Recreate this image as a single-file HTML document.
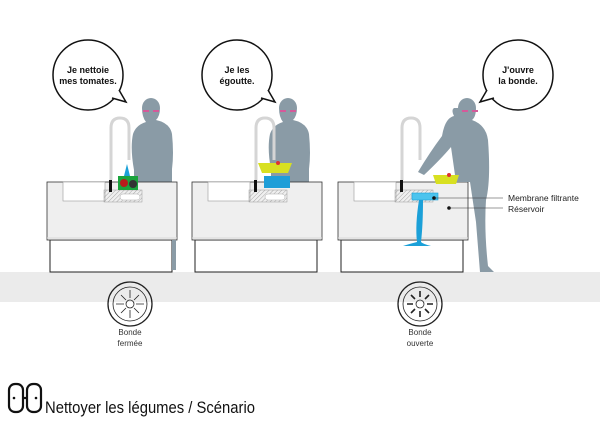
<!DOCTYPE html>
<html><head><meta charset="utf-8"><style>
html,body{margin:0;padding:0;background:#fff;}
svg{display:block;}
text{font-family:"Liberation Sans","DejaVu Sans",sans-serif;}
</style></head><body>
<svg width="600" height="424" viewBox="0 0 600 424" xmlns="http://www.w3.org/2000/svg">
<defs>
<pattern id="h" width="3" height="3" patternUnits="userSpaceOnUse" patternTransform="rotate(45)"><line x1="0" y1="0" x2="0" y2="3" stroke="#888" stroke-width="0.7"/></pattern>
<g id="cab">
  <rect x="50" y="240" width="122" height="32" fill="#fff" stroke="#222" stroke-width="1"/>
  <rect x="47" y="182" width="130" height="58" fill="#efefef" stroke="#333" stroke-width="0.8"/>
  <line x1="47" y1="238" x2="177" y2="238" stroke="#d8d8d8"/>
  <rect x="63" y="182" width="42" height="19" fill="#fff" stroke="#999" stroke-width="0.6"/>
  <rect x="104" y="190" width="38" height="12" fill="url(#h)" stroke="#999" stroke-width="0.5"/>
  <rect x="120" y="194" width="20" height="6" rx="3" fill="#fff" stroke="#aaa" stroke-width="0.5"/>
  <rect x="109" y="180" width="3" height="12" fill="#111"/>
  <path d="M111 180 V128 Q111 118 120 118 Q129 118 129 128 V160" fill="none" stroke="#d5d5d5" stroke-width="3"/>
</g>
<path id="pers" d="M142 108 a9 10 0 1 1 18 0 q0 8 -4 12 q14 3 16 14 q2 20 0 35 l0 13 l-38 0 l0 -12 q-4 -22 -1 -36 q3 -9 13 -12 q-4 -5 -4 -14z" fill="#8a9ba6"/>
</defs>

<rect x="0" y="272" width="600" height="30" fill="#ebebeb"/>

<!-- scene 1 -->
<use href="#pers"/>
<use href="#cab"/>
<path d="M172 240 h4 v30 h-4z" fill="#8a9ba6"/>
<rect x="118" y="176" width="20" height="14" fill="#1aa33c"/>
<circle cx="124" cy="183" r="4" fill="#b71c1c"/><circle cx="133" cy="184" r="4" fill="#333"/>
<path d="M124 176 l3 -12 l3 12z" fill="#1ba0d8"/>
<path d="M143 111 h6 m4 0 h6" stroke="#d45a9a" stroke-width="2"/>

<!-- scene 2 -->
<use href="#pers" transform="translate(137,0)"/>
<use href="#cab" transform="translate(145,0)"/>
<rect x="264" y="176" width="26" height="12" fill="#1e9ed8"/>
<path d="M258 163 h34 l-4 10 h-26z" fill="#d8e021"/>
<circle cx="278" cy="163" r="2" fill="#d33"/>
<path d="M280 111 h6 m4 0 h6" stroke="#d45a9a" stroke-width="2"/>

<!-- scene 3 -->
<use href="#cab" transform="translate(291,0)"/>
<path d="M458 108 a9 10 0 1 1 18 0 q0 9 -4 12 q14 5 16 20 q3 40 -2 60 q-2 30 2 66 l6 6 h-14 l-4 -50 l-6 -40 l-14 0 l-5 -35 q-10 12 -27 28 l-6 -3 q12 -20 24 -36 q3 -18 12 -20 q-3 -6 0 -8z" fill="#8a9ba6"/>
<path d="M433 175 h26 l-3 9 h-20z" fill="#d8e021"/><circle cx="449" cy="175" r="2" fill="#d33"/>
<rect x="412" y="193" width="26" height="7" fill="#4cc4ee" stroke="#1ba0d8" stroke-width="0.6"/>
<path d="M419 200 q-4 25 -2 42 q-8 2 -14 4 h28 q-8 -2 -10 -4 q2 -17 2 -42z" fill="#1ba0d8"/>
<path d="M462 111 h6 m4 0 h6" stroke="#d45a9a" stroke-width="2"/>
<circle cx="434" cy="198" r="1.8" fill="#111"/><line x1="434" y1="198" x2="503" y2="198" stroke="#333" stroke-width="0.6"/>
<circle cx="449" cy="208" r="1.8" fill="#111"/><line x1="449" y1="208" x2="503" y2="208" stroke="#333" stroke-width="0.6"/>
<text x="508" y="201" font-size="8.5" fill="#222">Membrane filtrante</text>
<text x="508" y="212" font-size="8.5" fill="#222">Réservoir</text>

<!-- bubbles -->
<g fill="#fff" stroke="#111" stroke-width="1.5">
<circle cx="88" cy="75" r="35"/>
<circle cx="237" cy="75" r="35"/>
<circle cx="518" cy="75" r="35"/>
<path d="M112 98 L126 102 L119 90" stroke-linejoin="miter"/>
<path d="M261 98 L275 102 L268 90"/>
<path d="M494 98 L480 102 L487 90"/>
</g>
<g fill="#fff"><path d="M110 96 L118 91 L121 99z"/><path d="M259 96 L267 91 L270 99z"/><path d="M496 96 L488 91 L485 99z"/></g>
<g font-size="9" font-weight="bold" text-anchor="middle" fill="#111">
<text x="88" y="73">Je nettoie</text><text x="88" y="84">mes tomates.</text>
<text x="237" y="73">Je les</text><text x="237" y="84">égoutte.</text>
<text x="518" y="73">J'ouvre</text><text x="518" y="84">la bonde.</text>
</g>

<!-- bonde icons -->
<g fill="none" stroke="#222">
<circle cx="130" cy="304" r="22" stroke-width="1.3"/><circle cx="130" cy="304" r="17" stroke-width="0.8"/>
<circle cx="130" cy="304" r="4" stroke-width="0.8"/>
<g stroke-width="0.8"><path d="M130 298 v-8 M130 310 v8 M124 304 h-8 M136 304 h8 M126 300 l-5 -5 M134 300 l5 -5 M126 308 l-5 5 M134 308 l5 5"/></g>
<circle cx="420" cy="304" r="22" stroke-width="1.3"/><circle cx="420" cy="304" r="17" stroke-width="0.8"/>
<circle cx="420" cy="304" r="4" stroke-width="0.8"/>
<g stroke-width="1.6"><path d="M420 297 v-6 M420 311 v6 M413 304 h-6 M427 304 h6 M415 299 l-4 -4 M425 299 l4 -4 M415 309 l-4 4 M425 309 l4 4"/></g>
</g>
<g font-size="8" text-anchor="middle" fill="#333">
<text x="130" y="335">Bonde</text><text x="130" y="346">fermée</text>
<text x="420" y="335">Bonde</text><text x="420" y="346">ouverte</text>
</g>

<!-- title -->
<g fill="none" stroke="#111" stroke-width="2.2">
<rect x="9" y="384" width="14" height="28" rx="6"/><rect x="27" y="384" width="14" height="28" rx="6"/>
<line x1="23" y1="398" x2="27" y2="398"/>
</g>
<circle cx="14" cy="398" r="1.3" fill="#111"/><circle cx="36" cy="398" r="1.3" fill="#111"/>
<text x="45" y="413" font-size="17" fill="#111" textLength="210" lengthAdjust="spacingAndGlyphs">Nettoyer les légumes / Scénario</text>
</svg>
</body></html>
